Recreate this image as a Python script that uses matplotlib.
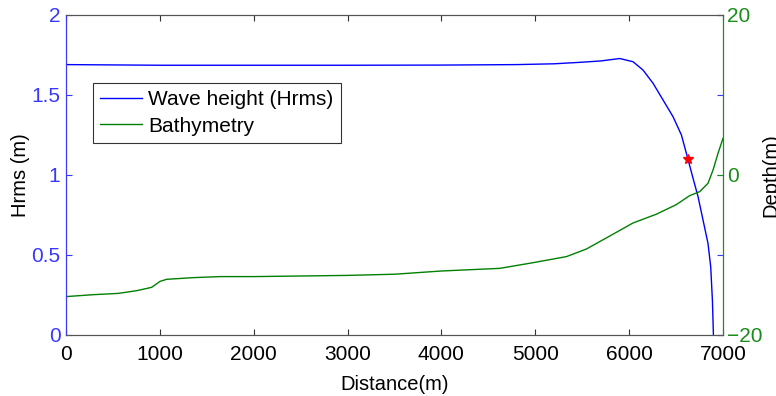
import matplotlib
matplotlib.use("Agg")
import matplotlib.pyplot as plt

# Wave height (Hrms) along the profile
dist_h = [0, 500, 1000, 2000, 3000, 4000, 4800, 5200, 5500, 5700, 5900, 6041, 6148,
          6255, 6361, 6468, 6557, 6627, 6681, 6734, 6787, 6840, 6869, 6887, 6898]
hrms = [1.69, 1.688, 1.686, 1.686, 1.686, 1.687, 1.69, 1.695, 1.705, 1.713, 1.728,
        1.708, 1.656, 1.573, 1.469, 1.364, 1.25, 1.098, 0.979, 0.865, 0.719, 0.573,
        0.427, 0.219, 0.0]

# Bathymetry
dist_b = [0, 291, 557, 753, 913, 1001, 1072, 1356, 1640, 2000, 3000, 3504, 4000, 4622,
          4977, 5332, 5545, 5793, 6041, 6290, 6503, 6645, 6752, 6840, 6894, 6947, 7000]
depth = [-15.2, -14.96, -14.8, -14.46, -14.04, -13.3, -13.04, -12.83, -12.7, -12.7,
         -12.55, -12.4, -12.0, -11.67, -10.96, -10.2, -9.25, -7.63, -6.0, -4.9, -3.7,
         -2.58, -2.08, -1.04, 0.63, 2.71, 4.58]

# Marker point
star_x = [6627]
star_y = [1.098]

xticks = [0, 1000, 2000, 3000, 4000, 5000, 6000, 7000]
lticks = [0, 0.5, 1, 1.5, 2]
lticklabels = ['0', '0.5', '1', '1.5', '2']
rticks = [-20, 0, 20]

blue = '#0000ff'
green = '#008000'
lblue = '#3838ff'
lgreen = '#1a8c1a'

plt.rcParams['font.family'] = ['Liberation Sans', 'DejaVu Sans']

fig = plt.figure(figsize=(7.76, 3.96), dpi=100)
ax = fig.add_axes([66 / 776, 61 / 396, 657 / 776, 320 / 396])
ax2 = ax.twinx()

lh, = ax.plot(dist_h, hrms, color=blue, lw=1.0, label='Wave height (Hrms)')
ax.plot(star_x, star_y, marker='*', color='red', ms=7, ls='none', zorder=5)
lb, = ax2.plot(dist_b, depth, color=green, lw=1.0, label='Bathymetry')

ax.set_xlim(0, 7000)
ax.set_ylim(0, 2)
ax2.set_ylim(-20, 20)
ax.set_xticks(xticks)
ax.set_yticks(lticks)
ax.set_yticklabels(lticklabels)
ax2.set_yticks(rticks)

ax.tick_params(axis='x', direction='in', top=True, length=4, labelsize=15,
               color='#333333', pad=7)
ax.tick_params(axis='y', direction='in', right=True, length=4, labelsize=15,
               colors=lblue, pad=4)
ax2.tick_params(axis='y', direction='in', length=4, labelsize=15, colors=lgreen, pad=3)

ax.spines['left'].set_color(lblue)
ax2.spines['left'].set_color(lblue)
ax.spines['right'].set_color(lgreen)
ax2.spines['right'].set_color(lgreen)
for a in (ax, ax2):
    a.spines['top'].set_color('#555555')
    a.spines['bottom'].set_color('#555555')

ax.set_xlabel('Distance(m)', fontsize=14.5, labelpad=8)
ax.set_ylabel('Hrms (m)', fontsize=14.5, labelpad=1)
ax2.set_ylabel('Depth(m)', fontsize=14.5, labelpad=-1)

leg = ax2.legend(handles=[lh, lb], loc='upper left', bbox_to_anchor=(0.041, 0.7875),
                 fontsize=15, frameon=True, fancybox=False, edgecolor='black',
                 handlelength=2.0, borderpad=0.35, labelspacing=0.35, handletextpad=0.3,
                 borderaxespad=0)
leg.get_frame().set_linewidth(0.8)

fig.savefig('out.png', dpi=100)
